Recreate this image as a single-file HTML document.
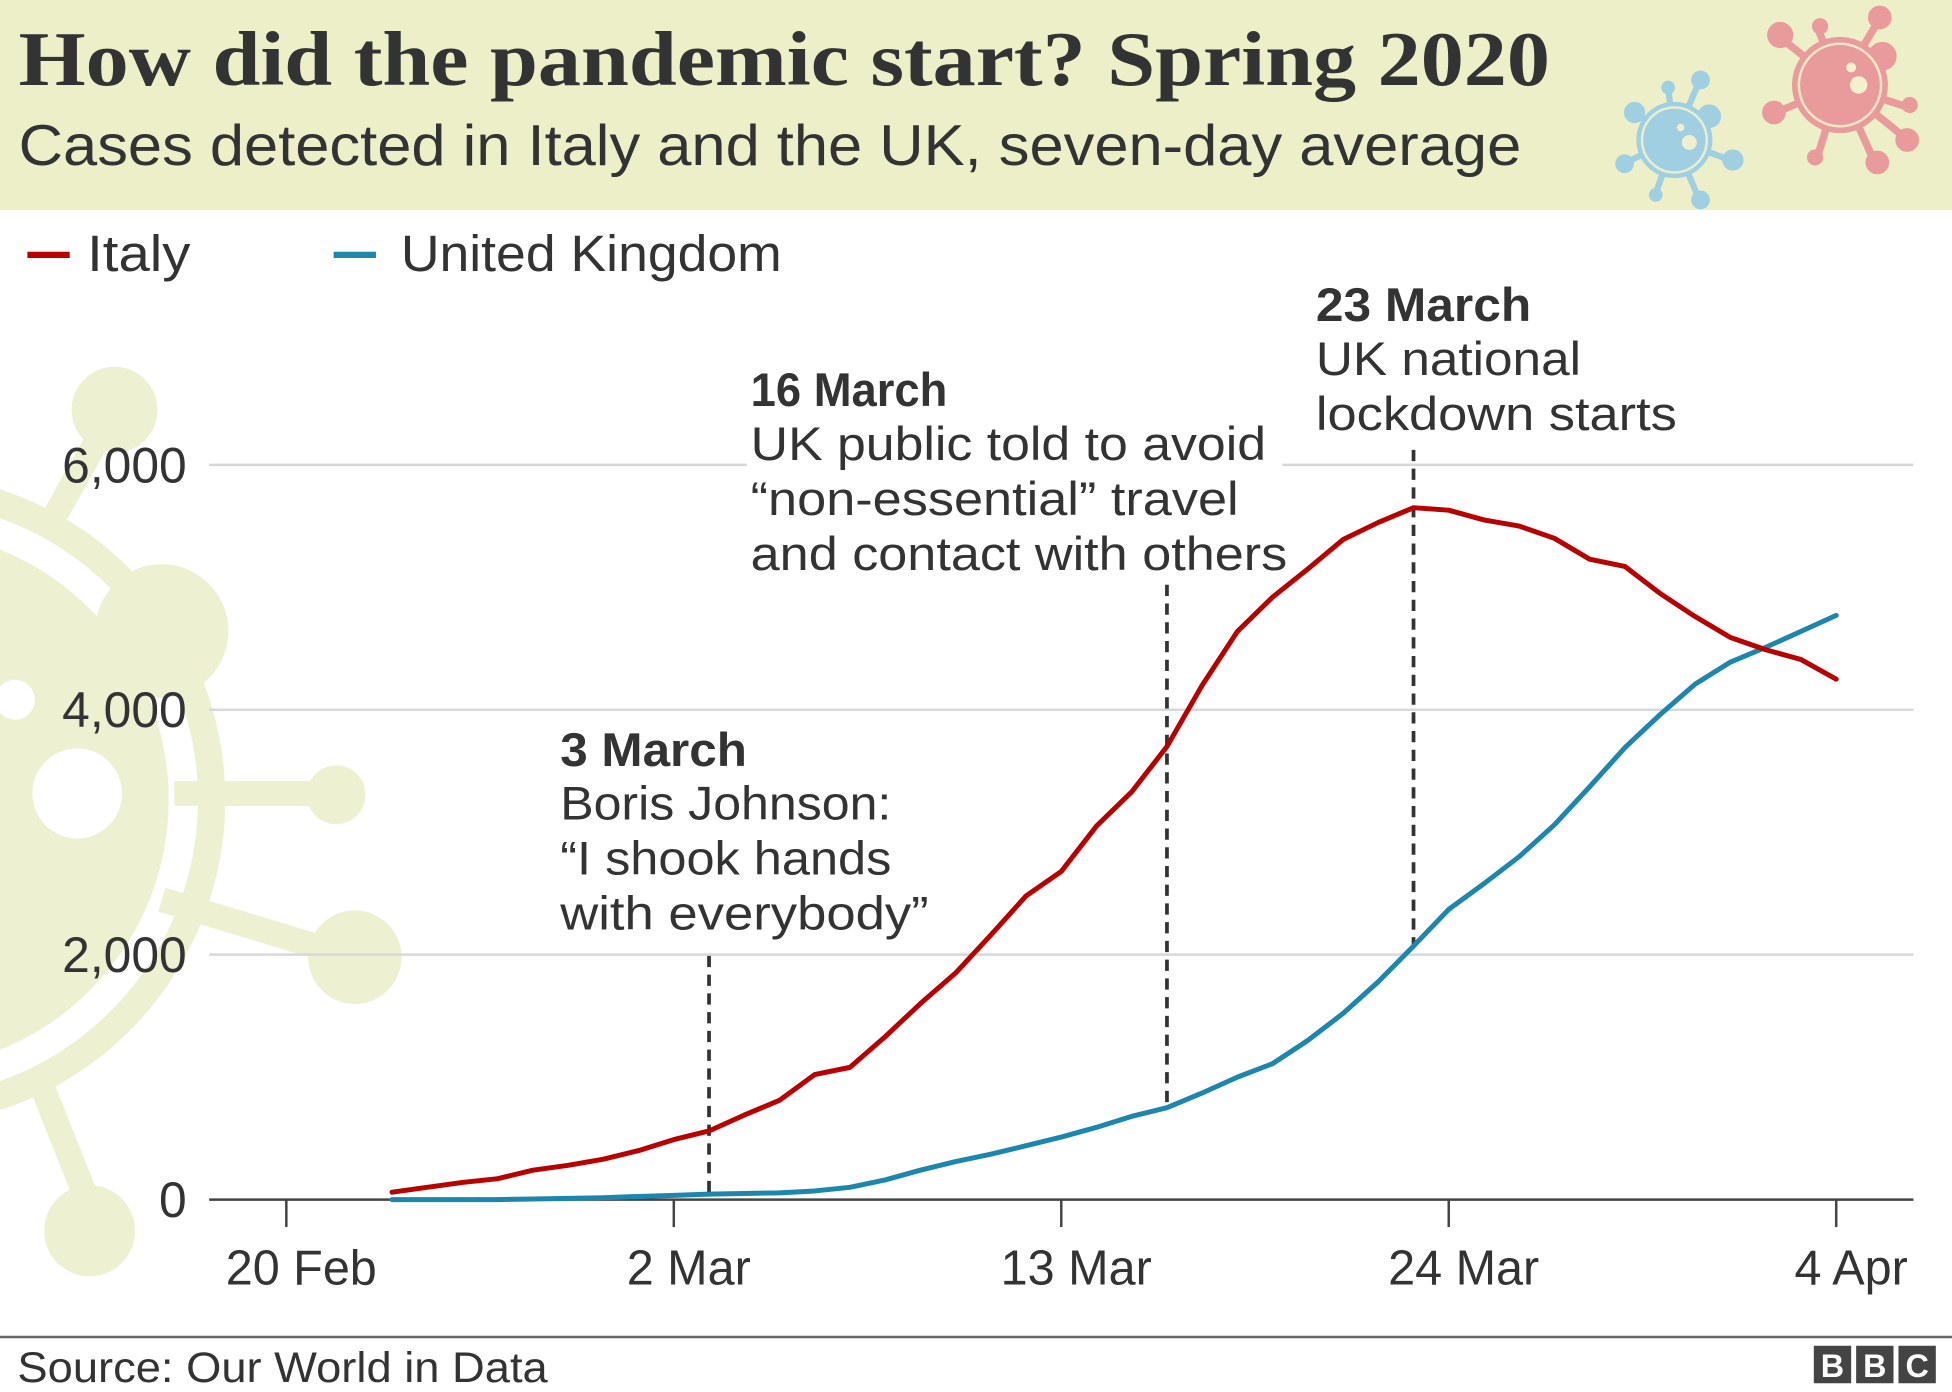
<!DOCTYPE html>
<html><head><meta charset="utf-8"><style>
html,body{margin:0;padding:0;background:#fff;}
svg{display:block;}
text{font-family:"Liberation Sans",sans-serif;fill:#222;}
</style></head><body>
<svg id="chart" width="1952" height="1392" viewBox="0 0 1568 1114" preserveAspectRatio="none" xmlns="http://www.w3.org/2000/svg">
<rect x="0" y="0" width="1568" height="1114" fill="#fff"/>
<rect x="0" y="0" width="1568" height="168" fill="#edefc9"/>
<g fill="#e99a9a" stroke="#e99a9a">
  <g stroke-width="6">
  <line x1="1478" y1="68" x2="1430" y2="30"/><line x1="1478" y1="68" x2="1510" y2="15"/><line x1="1478" y1="68" x2="1427" y2="90"/>
  <line x1="1478" y1="68" x2="1530" y2="110"/><line x1="1478" y1="68" x2="1460" y2="125"/><line x1="1478" y1="68" x2="1505" y2="128"/><line x1="1478" y1="68" x2="1530" y2="85"/><line x1="1478" y1="68" x2="1460" y2="22"/>
  </g>
  <circle cx="1478" cy="68" r="38"/>
  <circle cx="1430" cy="28" r="10"/><circle cx="1510" cy="14" r="9"/><circle cx="1425" cy="90" r="9"/><circle cx="1532" cy="112" r="9"/><circle cx="1508" cy="130" r="9"/><circle cx="1458" cy="126" r="6"/><circle cx="1534" cy="84" r="6"/><circle cx="1462" cy="21" r="6"/><circle cx="1512" cy="45" r="11"/>
  <circle cx="1478" cy="68" r="33" fill="none" stroke="#f3e6c9" stroke-width="2"/>
  <circle cx="1493" cy="68" r="7" fill="#f3efcf" stroke="none"/><circle cx="1487" cy="54" r="4" fill="#f3efcf" stroke="none"/>
</g>
<g fill="#9fcfe0" stroke="#9fcfe0">
  <g stroke-width="5">
  <line x1="1345" y1="112" x2="1313" y2="90"/><line x1="1345" y1="112" x2="1365" y2="65"/><line x1="1345" y1="112" x2="1306" y2="130"/><line x1="1345" y1="112" x2="1390" y2="128"/><line x1="1345" y1="112" x2="1365" y2="160"/><line x1="1345" y1="112" x2="1330" y2="155"/><line x1="1345" y1="112" x2="1340" y2="70"/>
  </g>
  <circle cx="1345" cy="112" r="30"/>
  <circle cx="1313" cy="90" r="8"/><circle cx="1366" cy="64" r="7"/><circle cx="1305" cy="131" r="7"/><circle cx="1392" cy="128" r="8"/><circle cx="1366" cy="160" r="7"/><circle cx="1330" cy="156" r="5"/><circle cx="1340" cy="70" r="5"/><circle cx="1373" cy="93" r="9"/>
  <circle cx="1345" cy="112" r="26" fill="none" stroke="#e6efd0" stroke-width="2"/>
  <circle cx="1357" cy="114" r="6" fill="#eef0d0" stroke="none"/><circle cx="1350" cy="102" r="3" fill="#eef0d0" stroke="none"/>
</g>
<text x="15" y="68" textLength="1230" lengthAdjust="spacingAndGlyphs" style="font-family:'Liberation Serif',serif;font-weight:bold;font-size:62px;fill:#333">How did the pandemic start? Spring 2020</text>
<text x="15" y="132" textLength="1207" lengthAdjust="spacingAndGlyphs" style="font-size:46px;fill:#333">Cases detected in Italy and the UK, seven-day average</text>
<g fill="#eef0d2" stroke="#eef0d2">
  <circle cx="-80" cy="640" r="250" fill="none" stroke-width="22"/>
  <circle cx="-80" cy="640" r="215"/>
  <g stroke-width="20">
  <line x1="40" y1="420" x2="85" y2="340"/><line x1="140" y1="635" x2="265" y2="635"/><line x1="130" y1="720" x2="280" y2="765"/><line x1="30" y1="860" x2="70" y2="960"/><line x1="100" y1="500" x2="130" y2="505"/>
  </g>
  <circle cx="92" cy="328" r="34"/><circle cx="130" cy="505" r="53"/><circle cx="270" cy="636" r="23"/><circle cx="285" cy="766" r="37"/><circle cx="72" cy="985" r="36"/>
  <circle cx="62" cy="635" r="36" fill="#fff" stroke="none"/><circle cx="12" cy="560" r="16" fill="#fff" stroke="none"/>
</g>
<g><line x1="22" y1="204" x2="56" y2="204" stroke="#b80000" stroke-width="5"/><text x="70" y="217" textLength="83" lengthAdjust="spacingAndGlyphs" style="font-size:41px;fill:#333">Italy</text></g>
<g><line x1="268" y1="204" x2="302" y2="204" stroke="#1d86ad" stroke-width="5"/><text x="322" y="217" textLength="306" lengthAdjust="spacingAndGlyphs" style="font-size:41px;fill:#333">United Kingdom</text></g>
<g id="grid"></g><g id="axes"></g><g id="annots"></g><g id="series"></g>
<line x1="0" y1="1070" x2="1568" y2="1070" stroke="#666" stroke-width="2"/>
<text x="14" y="1106" textLength="426" lengthAdjust="spacingAndGlyphs" style="font-size:34px;fill:#333">Source: Our World in Data</text>
<g>
  <rect x="1457" y="1077" width="30" height="30" fill="#444"/><rect x="1491" y="1077" width="30" height="30" fill="#444"/><rect x="1525" y="1077" width="30" height="30" fill="#444"/>
  <text x="1472" y="1102" text-anchor="middle" style="font-weight:bold;font-size:26px;fill:#fff">B</text><text x="1506" y="1102" text-anchor="middle" style="font-weight:bold;font-size:26px;fill:#fff">B</text><text x="1540" y="1102" text-anchor="middle" style="font-weight:bold;font-size:26px;fill:#fff">C</text>
</g>
</svg>
<script>
const days = [3,4,5,6,7,8,9,10,11,12,13,14,15,16,17,18,19,20,21,22,23,24,25,26,27,28,29,30,31,32,33,34,35,36,37,38,39,40,41,42,43,44];
const italy = [60,100,140,170,240,280,330,400,490,560,690,810,1020,1080,1330,1600,1850,2160,2480,2680,3050,3330,3700,4200,4640,4920,5150,5390,5530,5650,5630,5550,5500,5400,5230,5170,4950,4760,4590,4490,4410,4250];
const uk = [0,0,0,0,5,10,15,25,35,45,50,55,70,100,160,240,310,370,440,510,590,680,750,870,1000,1110,1300,1520,1780,2070,2370,2580,2800,3060,3370,3690,3960,4210,4390,4510,4640,4770];
const yTicks = [0,2000,4000,6000];
const yTickLabels = ["0","2,000","4,000","6,000"];
const xTickDays = [0,11,22,33,44];
const xTickLabels = ["20 Feb","2 Mar","13 Mar","24 Mar","4 Apr"];
const annotDays = [12,25,32];
const annotTitles = ["3 March","16 March","23 March"];
const annotLines = [["Boris Johnson:","\u201cI shook hands","with everybody\u201d"],["UK public told to avoid","\u201cnon-essential\u201d travel","and contact with others"],["UK national","lockdown starts"]];

const NS="http://www.w3.org/2000/svg";
const X=d=>230+d*(1475-230)/44;
const Y=v=>960-v*(960-372)/6000;
function mk(tag,attrs,parent){const e=document.createElementNS(NS,tag);for(const k in attrs)e.setAttribute(k,attrs[k]);parent.appendChild(e);return e;}
const grid=document.getElementById('grid'),axes=document.getElementById('axes'),an=document.getElementById('annots'),se=document.getElementById('series');
yTicks.forEach((v,i)=>{
  if(v>0){const g=mk('line',{x1:168,x2:1537,y1:Y(v),y2:Y(v),stroke:'#d8d8d8','stroke-width':2},grid);
  
  }
  const t=mk('text',{x:150,y:Y(v)+14,'text-anchor':'end',style:'font-size:40px;fill:#333'},axes);t.textContent=yTickLabels[i];
  
  
});
const base=mk('line',{x1:168,x2:1537,y1:960,y2:960,stroke:'#444','stroke-width':2},axes);


xTickDays.forEach((d,i)=>{
  const l=mk('line',{x1:X(d),x2:X(d),y1:960,y2:982,stroke:'#444','stroke-width':2},axes);
  
  
  const t=mk('text',{x:X(d)+12,y:1028,'text-anchor':'middle',style:'font-size:39px;fill:#333'},axes);t.textContent=xTickLabels[i];
  
  
});
const annotTop=[600,312,244];const annotX=[450,603,1057];const annotStart=[765,468,360];
const titleW=[150,158,173];const lineW=[[266,266,296],[414,392,431],[213,290]];
annotDays.forEach((d,i)=>{
  const g=mk('g',{},an);
  
  
  const yEnd=i==0?958:Y(uk[days.indexOf(d)]);
  mk('line',{x1:X(d),x2:X(d),y1:annotStart[i],y2:yEnd,stroke:'#333','stroke-width':3,'stroke-dasharray':'9,6'},g);
  if(i==1) mk('rect',{x:600,y:365,width:430,height:20,fill:'#fff'},g);
  const t=mk('text',{x:annotX[i],y:annotTop[i]+13,textLength:titleW[i],lengthAdjust:'spacingAndGlyphs',style:'font-size:38px;font-weight:bold;fill:#333'},g);t.textContent=annotTitles[i];
  annotLines[i].forEach((s,j)=>{const tt=mk('text',{x:annotX[i],y:annotTop[i]+56+j*44,textLength:lineW[i][j],lengthAdjust:'spacingAndGlyphs',style:'font-size:38px;fill:#333'},g);tt.textContent=s;});
});
function line(vals,color,name){
  const p=mk('path',{d:vals.map((v,i)=>(i?'L':'M')+X(days[i]).toFixed(1)+','+Y(v).toFixed(1)).join(''),fill:'none',stroke:color,'stroke-width':4,'stroke-linejoin':'round','stroke-linecap':'round'},se);
  
  
}
line(uk,'#1d86ad','uk-line');
line(italy,'#b80000','italy-line');
</script>
</body></html>
